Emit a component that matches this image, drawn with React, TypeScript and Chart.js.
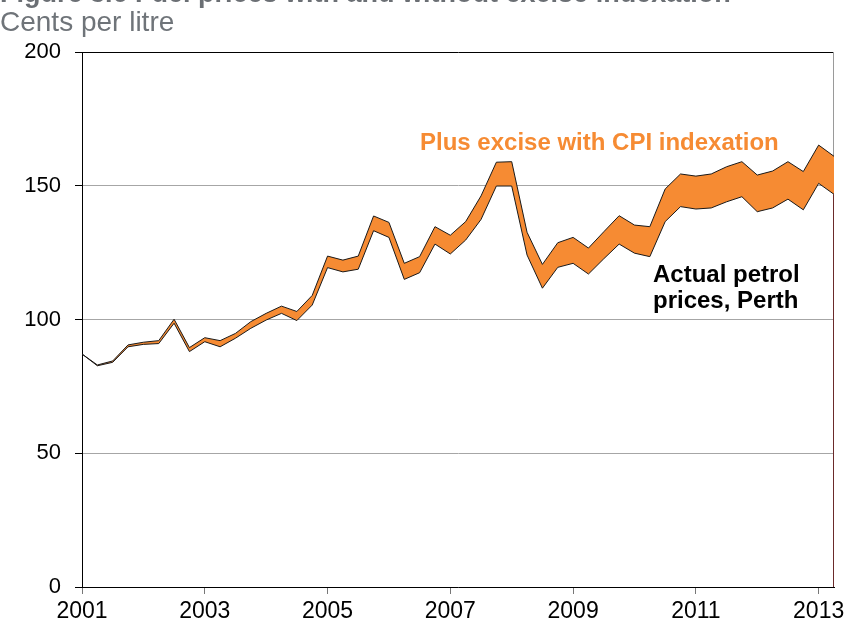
import React, { useEffect, useRef } from 'react';
import { Chart, registerables } from 'chart.js';

Chart.register(...registerables);

// ---- Data (cents per litre, quarterly, 2001 Q1 – 2013 Q2) ----
const years = ['2001', '2002', '2003', '2004', '2005', '2006', '2007', '2008', '2009', '2010', '2011', '2012', '2013'];
const quarterNames = ['Q1', 'Q2', 'Q3', 'Q4'];

const actualPrices = [
  87.1, 82.7, 84.0, 89.8, 90.7, 91.0, 98.6, 88.0, 91.7, 89.8,
  93.0, 96.7, 99.8, 102.3, 99.6, 105.4, 119.4, 117.8, 118.8, 133.2,
  130.7, 115.0, 117.5, 128.2, 124.5, 129.7, 137.4, 149.9, 149.9, 124.1,
  111.7, 119.5, 121.0, 117.0, 122.7, 128.2, 124.8, 123.5, 136.6, 142.2,
  141.3, 141.7, 144.0, 145.9, 140.3, 141.7, 145.0, 141.0, 150.9, 146.8,
];

const withCpiIndexation = [
  87.1, 83.0, 84.5, 90.5, 91.5, 92.1, 100.1, 89.5, 93.2, 92.1,
  94.8, 99.2, 102.3, 105.0, 103.0, 109.0, 123.7, 122.2, 123.7, 138.7,
  136.3, 121.0, 123.5, 134.7, 131.5, 136.6, 146.2, 158.8, 159.0, 132.6,
  120.6, 128.7, 130.7, 126.7, 132.8, 138.8, 135.3, 134.7, 148.8, 154.4,
  153.6, 154.4, 157.1, 159.0, 154.0, 155.5, 159.0, 155.3, 165.2, 161.0,
];

const tickYears = ['2001', '2003', '2005', '2007', '2009', '2011', '2013'];
const yTicks = [0, 50, 100, 150, 200];

const quarters: string[] = years
  .flatMap((y) => quarterNames.map((q) => `${y} ${q}`))
  .slice(0, actualPrices.length);

const FONT = 'Arial, "Liberation Sans", sans-serif';
const ORANGE = '#f68b33';

function isLabelled(index: number): boolean {
  const lab = quarters[index];
  if (!lab) return false;
  const [yr, q] = lab.split(' ');
  return q === 'Q1' && tickYears.includes(yr);
}

const borderPlugin = {
  id: 'rightBorder',
  beforeDatasetsDraw(chart: any) {
    const { ctx, chartArea } = chart;
    ctx.save();
    ctx.strokeStyle = '#9a9a9a';
    ctx.lineWidth = 1;
    ctx.beginPath();
    ctx.moveTo(chartArea.right - 0.5, chartArea.top);
    ctx.lineTo(chartArea.right - 0.5, chartArea.bottom);
    ctx.stroke();
    ctx.restore();
  },
  afterDatasetsDraw(chart: any) {
    const { ctx, chartArea, scales } = chart;
    const last = actualPrices.length - 1;
    const y = scales.y.getPixelForValue(actualPrices[last]);
    ctx.save();
    ctx.strokeStyle = '#6b2a2a';
    ctx.lineWidth = 1;
    ctx.beginPath();
    ctx.moveTo(chartArea.right - 0.5, y);
    ctx.lineTo(chartArea.right - 0.5, chartArea.bottom);
    ctx.stroke();
    ctx.restore();
  },
};

function FuelChart() {
  const canvasRef = useRef<HTMLCanvasElement | null>(null);

  useEffect(() => {
    if (!canvasRef.current) return;
    const chart = new Chart(canvasRef.current, {
      type: 'line',
      data: {
        labels: quarters,
        datasets: [
          {
            label: 'Actual petrol prices, Perth',
            data: actualPrices,
            borderColor: '#1a1a1a',
            borderWidth: 1,
            pointRadius: 0,
            tension: 0,
            fill: false,
          },
          {
            label: 'Plus excise with CPI indexation',
            data: withCpiIndexation,
            borderColor: '#1a1a1a',
            borderWidth: 1,
            pointRadius: 0,
            tension: 0,
            backgroundColor: ORANGE,
            fill: '-1',
          },
        ],
      },
      options: {
        responsive: false,
        animation: false,
        events: [],
        layout: { padding: { top: 52, right: 13, left: 0, bottom: 0 } },
        plugins: {
          legend: { display: false },
          tooltip: { enabled: false },
          title: { display: false },
        },
        scales: {
          x: {
            type: 'category',
            offset: false,
            afterFit: (scale: any) => {
              scale.height = 40;
            },
            border: { color: '#000', width: 1 },
            grid: {
              drawOnChartArea: false,
              drawTicks: true,
              tickLength: 7,
              tickColor: (ctx: any) => (isLabelled(ctx.index) ? '#777' : 'rgba(0,0,0,0)'),
            },
            ticks: {
              autoSkip: false,
              maxRotation: 0,
              minRotation: 0,
              padding: 4,
              color: '#000',
              font: { family: FONT, size: 23 },
              callback: (_v: any, i: number) => (isLabelled(i) ? quarters[i].split(' ')[0] : ''),
            },
          },
          y: {
            min: 0,
            max: 200,
            afterFit: (scale: any) => {
              scale.width = 82;
            },
            afterBuildTicks: (scale: any) => {
              scale.ticks = yTicks.map((v) => ({ value: v }));
            },
            border: { color: '#000', width: 1 },
            grid: {
              color: (ctx: any) => (ctx.tick && ctx.tick.value === 200 ? '#000' : '#a6a6a6'),
              lineWidth: 1,
              tickLength: 7,
              tickColor: '#000',
            },
            ticks: {
              padding: 14,
              color: '#000',
              font: { family: FONT, size: 22 },
            },
          },
        },
      },
      plugins: [borderPlugin],
    } as any);
    return () => chart.destroy();
  }, []);

  return <canvas ref={canvasRef} width={847} height={627} style={{ display: 'block' }} />;
}

export default function App() {
  return (
    <div
      style={{
        position: 'fixed',
        left: 0,
        top: 0,
        width: 847,
        height: 627,
        overflow: 'hidden',
        background: '#fff',
        fontFamily: FONT,
      }}
    >
      <FuelChart />
      <div
        style={{
          position: 'absolute',
          left: 0,
          top: -20,
          fontSize: 27,
          lineHeight: '27px',
          fontWeight: 'bold',
          color: '#6b6f74',
          whiteSpace: 'nowrap',
        }}
      >
        Figure 3.6 Fuel prices with and without excise indexation
      </div>
      <div
        style={{
          position: 'absolute',
          left: 0,
          top: 8,
          fontSize: 28,
          lineHeight: '28px',
          color: '#6f7479',
          whiteSpace: 'nowrap',
        }}
      >
        Cents per litre
      </div>
      <div
        style={{
          position: 'absolute',
          left: 420,
          top: 129,
          fontSize: 24,
          lineHeight: '26px',
          fontWeight: 'bold',
          color: ORANGE,
          whiteSpace: 'nowrap',
        }}
      >
        Plus excise with CPI indexation
      </div>
      <div
        style={{
          position: 'absolute',
          left: 653,
          top: 261,
          fontSize: 24,
          lineHeight: '26px',
          fontWeight: 'bold',
          color: '#000',
          whiteSpace: 'nowrap',
        }}
      >
        Actual petrol
        <br />
        prices, Perth
      </div>
    </div>
  );
}
